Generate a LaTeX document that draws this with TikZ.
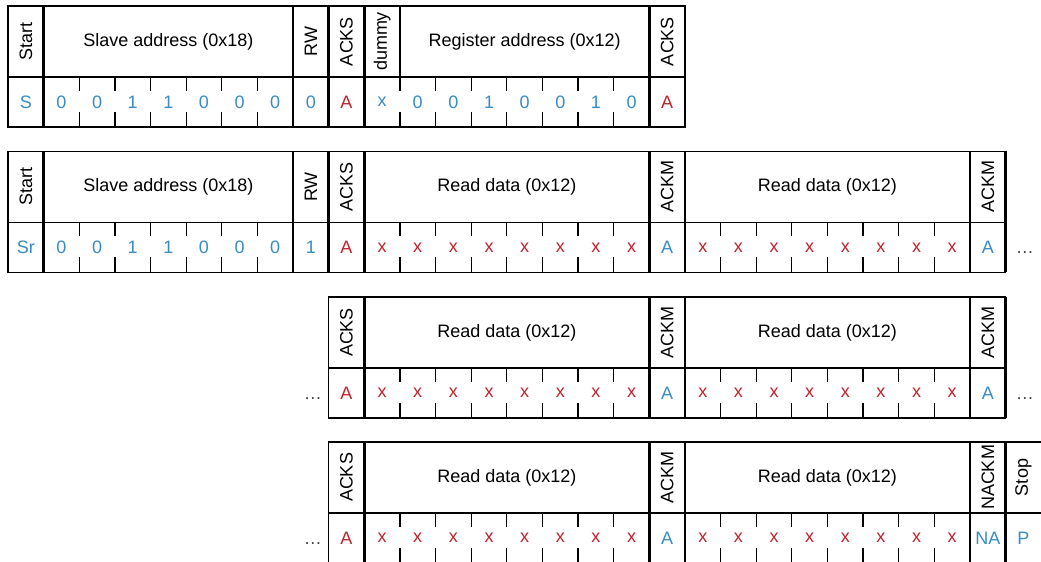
\documentclass[tikz,border=0pt]{standalone}
\usepackage{fontspec}
\setmainfont{Liberation Sans}
\usetikzlibrary{positioning}
\definecolor{mblue}{RGB}{55,140,195}
\definecolor{sred}{RGB}{190,35,45}
\tikzset{
  rim/.style={line width=0.9pt},
  bar/.style={line width=2pt},
  tck/.style={line width=0.9pt},
  lbl/.style={inner sep=0pt, font=\fontsize{12.8}{15}\selectfont},
  vlbl/.style={lbl, rotate=90},
  mval/.style={lbl, text=mblue},
  sval/.style={lbl, text=sred},
  more/.style={lbl, text=black!75, anchor=base},
}

% #1 top, #2 first column, #3 last column
\newcommand{\frameRow}[3]{%
  \draw[rim] (#2,#1) rectangle (#3,#1+121);
  \draw[rim] (#2,#1+71) -- (#3,#1+71);}

% #1 top, #2 first tick, #3 last tick
\newcommand{\bitTicks}[3]{%
  \foreach \k in {#2,...,#3} {
    \draw[tck] (\k,#1+71) -- ++(0,14);
    \draw[tck] (\k,#1+121) -- ++(0,-15);}}

% #1 name, #2 top, #3 column, #4 header, #5 value style, #6 value
\newcommand{\bitcell}[6]{%
  \node[vlbl] (#1h) at (#3+0.5,#2+35.5) {#4};
  \node[#5] (#1v) at (#3+0.5,#2+96) {#6};}

% #1 name, #2 top
\newcommand{\slaveaddr}[2]{%
  \node[lbl] (#1h) at (4.5,#2+35.5) {Slave address (0x18)};
  \foreach \v [count=\i] in {0,0,1,1,0,0,0}
    \node[mval] (#1v\i) at (\i+0.5,#2+96) {\v};
  \bitTicks{#2}{2}{7}}

% #1 name, #2 top, #3 first column
\newcommand{\readbyte}[3]{%
  \node[lbl] (#1h) at (#3+4,#2+35.5) {Read data (0x12)};
  \foreach \i in {1,...,8}
    \node[sval] (#1v\i) at (#3+\i-0.5,#2+96) {x};
  \foreach \k in {1,...,7} {
    \draw[tck] (#3+\k,#2+71) -- ++(0,14);
    \draw[tck] (#3+\k,#2+121) -- ++(0,-15);}}

\begin{document}
\begin{tikzpicture}[x=8.9075mm, y=-0.25mm]
\useasboundingbox (-0.2245,0) rectangle (28.9925,562);

% write register address
\frameRow{6}{0}{19}
\bitcell{st1}{6}{0}{Start}{mval}{S}
\slaveaddr{sa1}{6}
\bitcell{rw1}{6}{8}{RW}{mval}{0}
\bitcell{as1}{6}{9}{ACKS}{sval}{A}
\bitcell{dm1}{6}{10}{dummy}{mval}{x}
\node[lbl] (ra1h) at (14.5,41.5) {Register address (0x12)};
\foreach \v [count=\i] in {0,0,1,0,0,1,0}
  \node[mval] (ra1v\i) at (\i+10.5,102) {\v};
\bitcell{as1b}{6}{18}{ACKS}{sval}{A}
\bitTicks{6}{11}{17}
\draw[rim] (8,6) -- (8,127);
\draw[rim] (11,6) -- (11,77);
\foreach \k in {1,9,10,18,19} \draw[bar] (\k,6) -- (\k,127);

% read data
\frameRow{151.5}{0}{28}
\bitcell{st2}{151.5}{0}{Start}{mval}{Sr}
\slaveaddr{sa2}{151.5}
\bitcell{rw2}{151.5}{8}{RW}{mval}{1}
\bitcell{as2}{151.5}{9}{ACKS}{sval}{A}
\readbyte{rd2a}{151.5}{10}
\bitcell{am2a}{151.5}{18}{ACKM}{mval}{A}
\readbyte{rd2b}{151.5}{19}
\bitcell{am2b}{151.5}{27}{ACKM}{mval}{A}
\node[more] (mr2) at (28.54,254) {\dots};
\draw[rim] (8,151.5) -- (8,272.5);
\foreach \k in {1,9,10,18,19,27,28} \draw[bar] (\k,151.5) -- (\k,272.5);

\frameRow{297}{9}{28}
\node[more] (ml3) at (8.56,399.5) {\dots};
\bitcell{as3}{297}{9}{ACKS}{sval}{A}
\readbyte{rd3a}{297}{10}
\bitcell{am3a}{297}{18}{ACKM}{mval}{A}
\readbyte{rd3b}{297}{19}
\bitcell{am3b}{297}{27}{ACKM}{mval}{A}
\node[more] (mr3) at (28.54,399.5) {\dots};
\foreach \k in {10,18,19,27,28} \draw[bar] (\k,297) -- (\k,418);

\frameRow{442}{9}{29}
\node[more] (ml4) at (8.56,544.5) {\dots};
\bitcell{as4}{442}{9}{ACKS}{sval}{A}
\readbyte{rd4a}{442}{10}
\bitcell{am4}{442}{18}{ACKM}{mval}{A}
\readbyte{rd4b}{442}{19}
\bitcell{na4}{442}{27}{NACKM}{mval}{NA}
\bitcell{sp4}{442}{28}{Stop}{mval}{P}
\foreach \k in {10,18,19,27,28} \draw[bar] (\k,442) -- (\k,563);
\end{tikzpicture}
\end{document}
